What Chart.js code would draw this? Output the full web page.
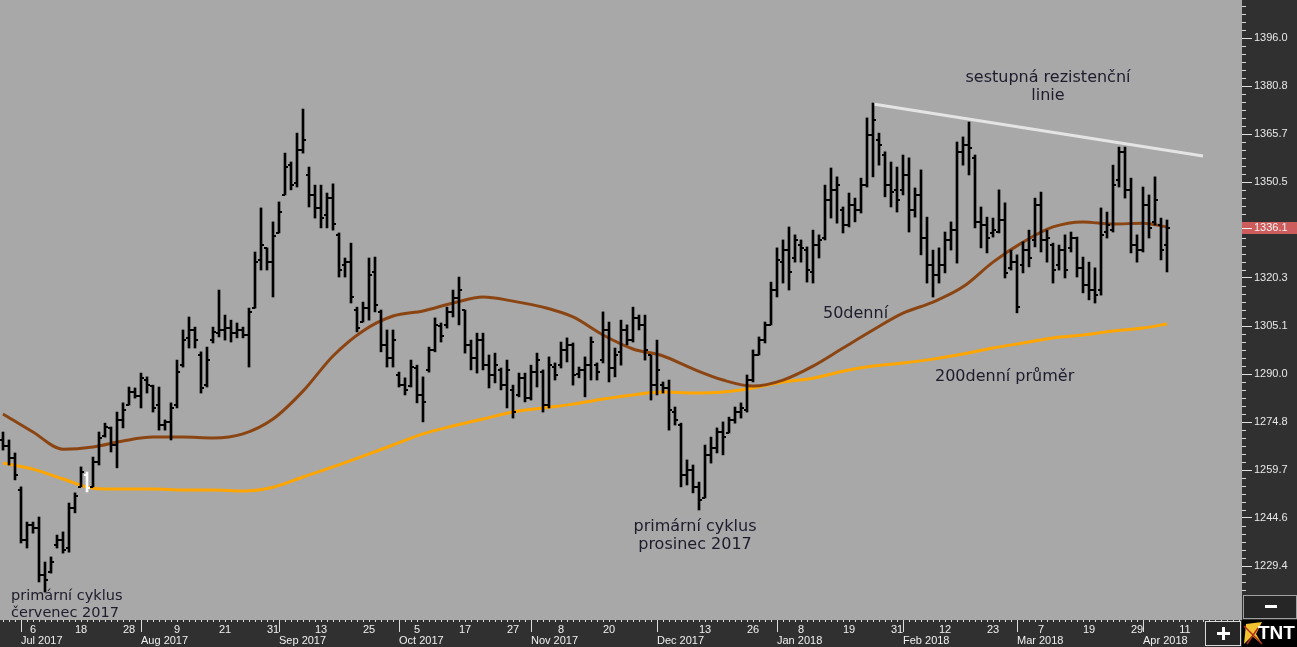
<!DOCTYPE html>
<html>
<head>
<meta charset="utf-8">
<script src="https://cdn.jsdelivr.net/npm/chart.js@4"></script>
<style>
html, body { margin: 0; padding: 0; background: #303030; overflow: hidden; }
canvas { display: block; }
</style>
</head>
<body>
<canvas id="chart" width="1297" height="647"></canvas>
<script>
// denni OHLC, 28.6.2017 - 6.4.2018
const high = [1271.7,1269.2,1265.1,1254.4,1243.3,1243.3,1244.9,1230.7,1232.3,1239.2,
1240.2,1249.3,1252.5,1260.7,1259.1,1263.8,1271.7,1274.5,1273.3,1278.0,
1280.9,1285.9,1285.6,1290.3,1289.1,1286.5,1285.9,1275.5,1280.9,1294.4,
1303.9,1308.0,1304.8,1297.0,1298.5,1304.8,1316.5,1308.6,1307.0,1306.1,
1304.8,1310.8,1328.5,1342.4,1329.8,1338.0,1344.3,1359.7,1356.9,1366.0,
1373.6,1355.3,1349.6,1349.6,1347.1,1350.0,1334.5,1326.6,1331.3,1311.1,
1312.7,1326.6,1326.9,1310.2,1303.9,1303.9,1290.6,1288.8,1294.4,1292.8,
1289.1,1298.5,1307.7,1306.1,1311.1,1316.5,1320.6,1310.2,1300.7,1302.9,
1302.9,1296.0,1296.6,1291.9,1294.4,1286.5,1290.3,1290.3,1292.8,1296.6,
1291.3,1295.4,1293.5,1300.1,1301.4,1299.8,1292.2,1295.4,1301.7,1293.5,
1309.6,1306.4,1298.2,1307.0,1305.5,1311.1,1308.6,1308.6,1296.0,1300.7,
1287.5,1288.1,1279.6,1274.5,1262.9,1261.3,1255.9,1267.6,1270.1,1273.0,
1274.9,1276.4,1279.6,1280.9,1289.7,1297.6,1301.7,1306.4,1319.0,1329.8,
1332.3,1336.4,1333.9,1332.3,1330.1,1335.4,1333.9,1349.6,1355.0,1352.2,
1342.7,1347.1,1345.5,1351.8,1370.8,1375.5,1366.0,1360.1,1356.9,1355.3,
1359.1,1358.2,1348.7,1354.4,1339.5,1329.1,1329.8,1334.8,1338.0,1363.2,
1364.8,1369.5,1359.1,1342.7,1339.5,1339.2,1348.1,1344.0,1329.1,1327.6,
1331.7,1335.4,1345.5,1347.4,1335.4,1331.3,1330.7,1333.9,1334.8,1333.2,
1326.9,1325.3,1323.5,1342.4,1341.1,1355.9,1361.6,1361.6,1351.8,1333.9,
1349.0,1346.5,1352.2,1339.2,1338.6];

const low = [1266.0,1261.3,1256.6,1236.7,1235.1,1239.8,1224.4,1221.2,1227.2,1235.1,
1233.5,1233.8,1246.2,1254.4,1252.8,1254.4,1261.3,1270.1,1265.4,1260.4,
1273.0,1280.2,1282.4,1279.3,1284.0,1278.0,1272.3,1272.3,1269.2,1279.3,
1292.2,1298.2,1298.2,1284.0,1285.9,1299.8,1301.7,1300.7,1300.1,1301.4,
1301.4,1292.2,1310.8,1322.8,1322.8,1314.3,1334.5,1346.5,1348.1,1349.0,
1359.7,1342.7,1339.2,1336.1,1336.1,1335.4,1320.6,1320.6,1312.4,1303.3,
1306.4,1307.0,1309.6,1297.0,1292.2,1292.2,1285.9,1283.4,1285.9,1280.9,
1274.9,1290.6,1297.0,1300.1,1304.5,1308.0,1305.5,1296.6,1291.3,1290.3,
1291.3,1285.6,1287.2,1285.0,1279.3,1276.1,1282.8,1281.2,1281.8,1285.9,
1278.0,1279.3,1288.1,1291.9,1293.8,1286.5,1288.8,1282.8,1288.1,1288.1,
1293.5,1287.5,1289.1,1292.8,1299.2,1300.1,1303.9,1294.4,1281.8,1283.4,
1284.0,1272.3,1273.9,1254.4,1255.0,1252.5,1247.1,1250.9,1261.9,1265.1,
1264.5,1271.4,1274.5,1276.1,1278.0,1287.5,1296.0,1299.8,1305.5,1314.3,
1318.7,1316.5,1325.3,1325.3,1319.0,1318.7,1326.6,1332.3,1339.2,1337.6,
1334.5,1336.4,1338.0,1340.8,1349.0,1352.2,1355.9,1345.9,1342.7,1341.1,
1346.5,1334.8,1339.5,1327.6,1318.7,1314.3,1318.7,1321.9,1329.1,1325.0,
1355.9,1352.8,1336.1,1329.8,1328.2,1333.2,1334.5,1320.3,1322.8,1309.3,
1321.9,1323.8,1330.1,1328.5,1325.3,1318.7,1322.8,1320.3,1328.5,1320.6,
1315.6,1313.4,1312.4,1314.9,1332.9,1334.8,1349.0,1345.5,1328.2,1325.3,
1328.5,1332.9,1337.0,1326.0,1322.2];

const open = [1269.2,1267.3,1263.5,1253.4,1237.6,1242.4,1241.4,1226.6,1227.5,1236.1,
1237.6,1235.1,1247.7,1254.4,1258.1,1254.4,1262.2,1270.5,1273.0,1267.6,
1275.5,1280.2,1284.3,1283.1,1288.1,1286.2,1280.2,1273.9,1274.9,1280.2,
1292.8,1301.4,1303.9,1296.0,1286.5,1300.7,1302.9,1303.9,1304.5,1302.9,
1303.9,1302.3,1310.8,1326.0,1329.8,1325.3,1334.5,1346.5,1355.9,1350.3,
1360.7,1352.8,1346.5,1342.4,1340.2,1345.5,1333.9,1324.4,1325.3,1310.2,
1306.4,1310.8,1322.2,1309.6,1299.2,1295.1,1289.7,1286.5,1286.2,1291.9,
1283.4,1291.3,1297.6,1305.2,1305.5,1309.6,1314.0,1310.2,1299.2,1295.1,
1300.7,1292.8,1289.7,1291.3,1286.5,1285.0,1283.4,1288.8,1282.4,1290.6,
1290.6,1280.2,1292.2,1292.8,1297.6,1299.2,1290.0,1291.3,1292.8,1292.8,
1294.4,1303.9,1291.9,1297.0,1303.9,1300.7,1307.7,1305.5,1296.0,1286.5,
1286.5,1285.6,1278.0,1273.9,1258.1,1259.7,1254.4,1250.9,1264.5,1266.7,
1271.7,1271.4,1275.5,1278.0,1278.7,1288.1,1296.0,1300.7,1305.5,1316.5,
1325.3,1329.1,1326.6,1330.7,1329.1,1322.2,1330.7,1332.9,1344.9,1348.1,
1341.8,1337.0,1343.3,1341.8,1349.6,1365.4,1363.8,1359.1,1349.6,1348.1,
1348.1,1352.8,1341.8,1346.5,1332.9,1324.4,1321.2,1324.4,1332.3,1335.4,
1360.1,1362.3,1358.2,1338.0,1337.0,1334.5,1334.8,1338.6,1323.5,1325.3,
1324.4,1329.1,1332.3,1343.3,1332.3,1330.7,1324.4,1329.1,1329.8,1332.9,
1323.5,1318.1,1316.5,1316.5,1334.8,1335.4,1351.2,1360.1,1348.1,1330.7,
1329.1,1343.3,1338.0,1337.0,1330.7];

const close = [1267.3,1263.5,1258.1,1237.6,1242.4,1241.4,1226.6,1225.0,1230.7,1237.6,
1234.5,1247.7,1251.5,1259.1,1254.0,1262.2,1269.8,1273.3,1267.6,1275.5,
1278.7,1284.3,1283.1,1288.8,1286.5,1279.3,1273.9,1274.9,1279.3,1290.6,
1300.7,1303.9,1300.7,1285.6,1294.4,1303.3,1303.9,1304.5,1302.9,1303.9,
1302.3,1309.6,1325.3,1330.7,1325.3,1333.6,1341.1,1355.3,1349.6,1360.7,
1363.8,1346.5,1342.4,1339.2,1345.5,1337.3,1322.8,1325.3,1314.3,1304.5,
1310.8,1321.2,1311.8,1299.2,1295.1,1300.7,1286.5,1285.0,1292.2,1283.4,
1281.2,1297.6,1305.5,1302.0,1309.6,1314.0,1316.5,1299.2,1295.1,1300.7,
1292.8,1289.7,1292.8,1286.5,1291.3,1278.0,1288.8,1282.4,1290.6,1294.4,
1280.2,1292.8,1289.7,1297.6,1299.2,1289.7,1291.3,1292.8,1300.1,1290.6,
1303.9,1291.9,1296.0,1303.9,1300.7,1307.7,1305.5,1297.6,1286.5,1291.3,
1285.6,1278.7,1275.5,1258.1,1259.7,1254.4,1250.3,1264.5,1266.7,1271.7,
1270.1,1275.5,1278.0,1279.3,1288.1,1296.0,1300.7,1305.5,1316.5,1326.0,
1329.1,1322.2,1332.3,1329.8,1322.8,1330.7,1332.3,1344.9,1348.1,1349.6,
1337.0,1343.3,1341.8,1349.6,1365.4,1370.1,1362.3,1349.6,1347.4,1344.9,
1352.8,1341.8,1346.5,1332.9,1324.4,1321.2,1324.4,1332.3,1335.4,1360.1,
1362.3,1361.3,1338.0,1337.0,1332.9,1335.4,1338.6,1321.9,1325.3,1311.1,
1329.1,1326.6,1343.3,1332.3,1332.9,1322.8,1329.1,1322.8,1332.9,1323.5,
1318.1,1316.5,1314.9,1333.9,1337.0,1349.6,1360.1,1348.1,1330.7,1329.1,
1343.3,1336.1,1344.9,1329.1,1336.1];

// klouzave prumery, odecteno po 5 barech
const maIdx = [0,5,10,15,20,25,30,35,40,45,50,55,60,65,70,75,80,85,90,95,
  100,105,110,115,120,125,130,135,140,145,150,155,160,165,170,175,180,185,190,194];
const ma50 = [1277.4,1271.7,1266.3,1267.0,1268.9,1270.1,1270.1,1269.8,1271.1,1275.8,
  1284.6,1295.7,1303.6,1308.3,1309.9,1312.4,1314.3,1313.0,1311.1,1308.0,
  1302.3,1297.9,1295.7,1291.6,1288.1,1286.2,1288.1,1292.5,1298.2,1303.9,
  1309.2,1312.7,1317.5,1325.3,1331.6,1336.4,1338.0,1337.3,1337.6,1336.4];
const ma200 = [1261.9,1260.0,1256.9,1254.0,1253.7,1253.7,1253.4,1253.4,1253.1,1254.3,
  1257.5,1260.7,1264.1,1267.6,1271.1,1273.6,1275.8,1278.0,1279.3,1280.5,
  1282.1,1283.4,1284.3,1284.0,1284.3,1285.6,1287.5,1288.7,1290.9,1292.5,
  1293.5,1294.7,1296.3,1298.2,1299.8,1301.4,1302.3,1303.6,1304.5,1305.8];

// sestupna rezistencni linie
const resistIdx = [145, 200];
const resistVal = [1375.2, 1358.8];

const yTicks = [1229.4,1244.6,1259.7,1274.8,1290.0,1305.1,1320.3,1350.5,1365.7,1380.8,1396.0];

const dayTicks = {'2017-07-06':'6','2017-07-18':'18','2017-07-28':'28','2017-08-09':'9','2017-08-21':'21',
  '2017-08-31':'31','2017-09-13':'13','2017-09-25':'25','2017-10-05':'5','2017-10-17':'17','2017-10-27':'27',
  '2017-11-08':'8','2017-11-20':'20','2017-12-13':'13','2017-12-26':'26','2018-01-08':'8','2018-01-19':'19',
  '2018-01-31':'31','2018-02-12':'12','2018-02-23':'23','2018-03-07':'7','2018-03-19':'19','2018-03-29':'29',
  '2018-04-11':'11'};
const monthTicks = {'2017-07-03':'Jul 2017','2017-08-01':'Aug 2017','2017-09-01':'Sep 2017','2017-10-02':'Oct 2017',
  '2017-11-01':'Nov 2017','2017-12-01':'Dec 2017','2018-01-02':'Jan 2018','2018-02-01':'Feb 2018',
  '2018-03-01':'Mar 2018','2018-04-02':'Apr 2018'};

// obchodni dny (bez vikendu a svatku)
const holidays = ['2017-07-04','2017-09-04','2017-11-23','2017-12-25','2018-01-01','2018-01-15','2018-02-19','2018-03-30'];
const dates = [];
for (let d = new Date(Date.UTC(2017, 5, 28)); dates.length < 207; d.setUTCDate(d.getUTCDate() + 1)) {
  const wd = d.getUTCDay();
  const s = d.toISOString().slice(0, 10);
  if (wd > 0 && wd < 6 && !holidays.includes(s)) dates.push(s);
}

function tickImg(color, left) {
  const c = document.createElement('canvas');
  c.width = 8; c.height = 2;
  const g = c.getContext('2d');
  g.fillStyle = color;
  g.fillRect(left ? 1 : 4, 0, 3, 2);
  return c;
}
const openB = tickImg('#000', true), closeB = tickImg('#000', false);
const openW = tickImg('#fff', true), closeW = tickImg('#fff', false);
const hiliteBar = 14;

const axisFontCss = '11px "Liberation Sans", Arial, sans-serif';

const decor = {
  id: 'decor',
  beforeDraw(chart) {
    const {ctx, chartArea: a} = chart;
    ctx.save();
    ctx.fillStyle = '#303030';
    ctx.fillRect(0, 0, chart.width, chart.height);
    ctx.fillStyle = '#a8a8a8';
    ctx.fillRect(a.left, a.top, a.right - a.left, a.bottom - a.top);
    ctx.restore();
  },
  afterDraw(chart) {
    const {ctx, chartArea: a} = chart;
    const x = chart.scales.x, y = chart.scales.y;
    ctx.save();
    // znacky na ose x, dny a mesice
    ctx.strokeStyle = '#dcdcdc';
    ctx.lineWidth = 1;
    ctx.beginPath();
    dates.forEach((d, i) => {
      const px = Math.round(x.getPixelForValue(i)) + 0.5;
      const len = monthTicks[d] ? 12 : 2;
      ctx.moveTo(px, a.bottom);
      ctx.lineTo(px, a.bottom + len);
    });
    ctx.stroke();
    ctx.fillStyle = '#f0f0f0';
    ctx.font = axisFontCss;
    ctx.textBaseline = 'middle';
    dates.forEach((d, i) => {
      const px = Math.round(x.getPixelForValue(i));
      if (dayTicks[d]) { ctx.textAlign = 'center'; ctx.fillText(dayTicks[d], px, a.bottom + 10); }
      if (monthTicks[d]) { ctx.textAlign = 'left'; ctx.fillText(monthTicks[d], px, a.bottom + 21); }
    });
    ctx.textAlign = 'left';
    // vedlejsi znacky na ose y
    const step = (1396.0 - 1229.4) / 11 / 6;
    ctx.beginPath();
    for (let k = -12; k < 80; k++) {
      if (k % 6 === 0) continue;
      const py = Math.round(y.getPixelForValue(1229.4 + k * step)) + 0.5;
      if (py < 0 || py > 592) continue;
      ctx.moveTo(a.right, py);
      ctx.lineTo(a.right + 4, py);
    }
    ctx.stroke();
    // posledni cena
    const last = close[close.length - 1];
    const cy = Math.round(y.getPixelForValue(last));
    ctx.fillStyle = '#cd5c5c';
    ctx.fillRect(a.right, cy - 6, chart.width - a.right, 12);
    ctx.strokeStyle = '#f0f0f0';
    ctx.beginPath();
    ctx.moveTo(a.right, cy + 0.5);
    ctx.lineTo(a.right + 10, cy + 0.5);
    ctx.stroke();
    ctx.fillStyle = '#f2f2f2';
    ctx.fillText(last.toFixed(1), a.right + 12, cy);

    // tlacitka vpravo dole
    ctx.fillStyle = '#262626';
    ctx.fillRect(a.right + 1, 595, chart.width - a.right - 1, 24);
    ctx.strokeStyle = '#a0a0a0';
    ctx.strokeRect(a.right + 1.5, 595.5, chart.width - a.right - 2, 23);
    ctx.fillStyle = '#ffffff';
    ctx.fillRect(1265, 605, 12, 3);

    ctx.fillStyle = '#262626';
    ctx.fillRect(1205, 621, 36, 25);
    ctx.strokeStyle = '#d8d8d8';
    ctx.strokeRect(1205.5, 621.5, 35, 24);
    ctx.fillStyle = '#ffffff';
    ctx.fillRect(1217, 632, 13, 3);
    ctx.fillRect(1222, 627, 3, 13);

    ctx.fillStyle = '#000000';
    ctx.fillRect(1242, 620, chart.width - 1242, 27);
    ctx.fillStyle = '#f2c230';
    ctx.beginPath();
    ctx.moveTo(1246, 624); ctx.lineTo(1262, 622); ctx.lineTo(1256, 634); ctx.lineTo(1262, 644);
    ctx.lineTo(1252, 636); ctx.lineTo(1244, 644); ctx.closePath();
    ctx.fill();
    ctx.strokeStyle = '#b03020';
    ctx.lineWidth = 1.5;
    ctx.beginPath();
    ctx.moveTo(1244, 626); ctx.lineTo(1262, 644);
    ctx.moveTo(1247, 644); ctx.lineTo(1258, 628);
    ctx.stroke();
    ctx.fillStyle = '#ffffff';
    ctx.font = 'bold 19px "Liberation Sans", Arial, sans-serif';
    ctx.fillText('TNT', 1258, 634);

    // popisky
    ctx.fillStyle = '#1c1c2c';
    ctx.font = '14.5px "DejaVu Sans", sans-serif';
    ctx.textAlign = 'left';
    ctx.fillText('primární cyklus', 11, 596);
    ctx.fillText('červenec 2017', 11, 613);
    ctx.font = '16px "DejaVu Sans", sans-serif';
    ctx.textAlign = 'center';
    ctx.fillText('primární cyklus', 695, 527);
    ctx.fillText('prosinec 2017', 695, 545);
    ctx.fillText('sestupná rezistenční', 1048, 78);
    ctx.fillText('linie', 1048, 96);
    ctx.textAlign = 'left';
    ctx.fillText('50denní', 823, 314);
    ctx.fillText('200denní průměr', 935, 377);
    ctx.restore();
  }
};

const axisFont = {family: '"Liberation Sans", Arial, sans-serif', size: 11};
const noPad = s => { s.paddingLeft = 0; s.paddingRight = 0; s.paddingTop = 0; s.paddingBottom = 0; };

new Chart(document.getElementById('chart'), {
  data: {
    labels: dates,
    datasets: [
      {
        type: 'line',
        data: open,
        showLine: false,
        pointStyle: c => c.dataIndex === hiliteBar ? openW : openB,
        pointRadius: 3,
        order: 1
      },
      {
        type: 'line',
        data: close,
        showLine: false,
        pointStyle: c => c.dataIndex === hiliteBar ? closeW : closeB,
        pointRadius: 3,
        order: 1
      },
      {
        type: 'bar',
        data: low.map((l, i) => [l, high[i]]),
        backgroundColor: c => c.dataIndex === hiliteBar ? '#ffffff' : '#000000',
        borderWidth: 0,
        barThickness: 2,
        order: 2
      },
      {
        type: 'line',
        data: resistIdx.map((i, k) => ({x: dates[i], y: resistVal[k]})),
        borderColor: '#e4e4e4',
        borderWidth: 3,
        pointRadius: 0,
        order: 3
      },
      {
        type: 'line',
        data: maIdx.map((i, k) => ({x: dates[i], y: ma50[k]})),
        borderColor: '#8b4513',
        borderWidth: 3,
        pointRadius: 0,
        cubicInterpolationMode: 'monotone',
        order: 4
      },
      {
        type: 'line',
        data: maIdx.map((i, k) => ({x: dates[i], y: ma200[k]})),
        borderColor: '#ffa500',
        borderWidth: 3,
        pointRadius: 0,
        cubicInterpolationMode: 'monotone',
        order: 5
      }
    ]
  },
  options: {
    responsive: false,
    animation: false,
    events: [],
    layout: {padding: 0, autoPadding: false},
    plugins: {legend: {display: false}, tooltip: {enabled: false}},
    scales: {
      x: {
        type: 'category',
        position: 'bottom',
        offset: true,
        grid: {display: false},
        border: {display: false},
        ticks: {display: false},
        afterFit: s => { s.height = 27; noPad(s); }
      },
      y: {
        position: 'right',
        min: 1212.4,
        max: 1408.0,
        grid: {drawOnChartArea: false, drawTicks: true, tickLength: 10, tickColor: '#e0e0e0', lineWidth: 1},
        border: {display: false},
        afterBuildTicks: s => { s.ticks = yTicks.map(v => ({value: v})); },
        ticks: {
          padding: 2, color: '#e8e8e8', font: axisFont,
          callback: v => Number(v).toFixed(1)
        },
        afterFit: s => { s.width = 55; noPad(s); }
      }
    }
  },
  plugins: [decor]
});
</script>
</body>
</html>
